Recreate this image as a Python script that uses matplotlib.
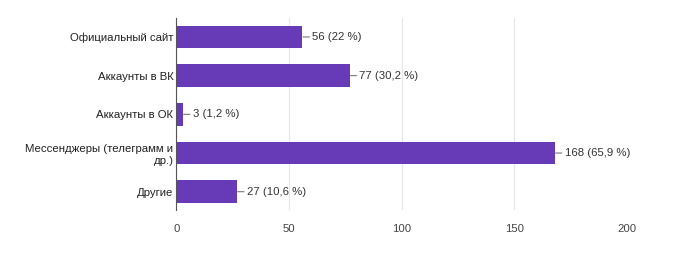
import matplotlib.pyplot as plt

plt.rcParams['font.family'] = ['Liberation Sans', 'DejaVu Sans']

# Данные
categories = ['Официальный сайт', 'Аккаунты в ВК', 'Аккаунты в ОК',
              'Мессенджеры (телеграмм и\nдр.)', 'Другие']
counts = [56, 77, 3, 168, 27]
labels = ['56 (22 %)', '77 (30,2 %)', '3 (1,2 %)', '168 (65,9 %)', '27 (10,6 %)']
xticks = [0, 50, 100, 150, 200]

fig = plt.figure(figsize=(6.83, 2.65), dpi=100)
ax = fig.add_axes([0.258, 0.208, 0.66, 0.724])

y = list(range(len(categories)))
ax.barh(y, counts, height=0.58, color='#673ab7', zorder=2)

for yi, v, lab in zip(y, counts, labels):
    ax.annotate(lab, xy=(v, yi), xytext=(7, 0), textcoords='offset points',
                ha='left', va='center', fontsize=8.2, color='#333333',
                arrowprops=dict(arrowstyle='-', color='#777777', lw=0.8,
                                shrinkA=0, shrinkB=0.5))

ax.set_xlim(0, 200)
ax.set_ylim(4.47, -0.49)
ax.set_xticks(xticks)
ax.set_yticks(y)
ax.set_yticklabels(categories, fontsize=8.2, color='#222222', ha='right')
ax.tick_params(axis='both', length=0, pad=2)
ax.tick_params(axis='x', labelsize=8.2, labelcolor='#444444', pad=10)
ax.grid(axis='x', color='#e6e6e6', lw=0.8, zorder=0)
for s in ['top', 'right', 'bottom']:
    ax.spines[s].set_visible(False)
ax.spines['left'].set_color('#555555')
ax.spines['left'].set_zorder(3)

fig.savefig('out.png', dpi=100)
